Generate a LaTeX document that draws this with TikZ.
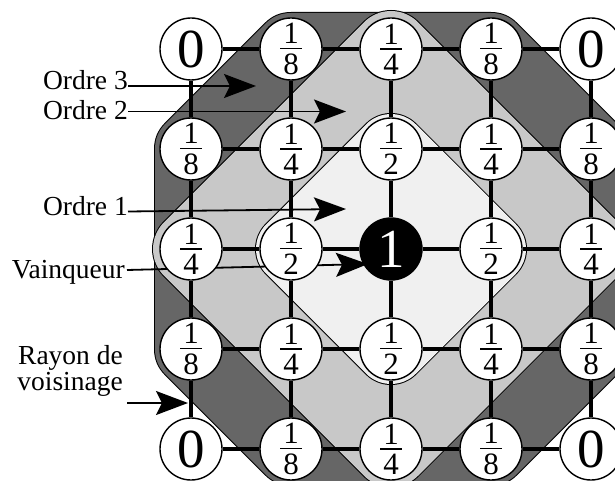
\documentclass[tikz,border=0pt]{standalone}
\usepackage{fontspec}
\setmainfont{Liberation Serif}
\usetikzlibrary{arrows.meta}
\pgfdeclarelayer{back}
\pgfdeclarelayer{mid}
\pgfsetlayers{back,mid,main}
\definecolor{darkreg}{RGB}{102,102,102}
\definecolor{medreg}{RGB}{200,200,200}
\definecolor{lightreg}{RGB}{240,240,240}
\newcommand\myfr[2]{\vbox{\hbox to 22pt{\hss#1\hss}\kern4pt\hrule height 1.5pt\kern4.5pt\hbox to 22pt{\hss#2\hss}}}
\newcommand\myregion[3]{%
  \draw[line width=#2pt+2pt, line join=round] #3 -- cycle;
  \draw[line width=#2pt, line join=round, draw=#1] #3 -- cycle;
  \fill[#1] #3 -- cycle;}
\begin{document}
\begin{tikzpicture}[x=1pt,y=-1pt,
  cell/.style={circle, draw, fill=white, minimum size=62pt, inner sep=0pt, line width=1.4pt,
    font=\fontsize{31}{31}\selectfont},
  win/.style={circle, draw, fill=black, text=white, minimum size=62pt, inner sep=0pt, line width=1.4pt,
    font=\fontsize{55}{55}\selectfont},
  gridline/.style={line width=4.5pt},
  lab/.style={inner sep=0pt, font=\fontsize{27.5}{26}\selectfont},
  arr/.style={line width=1.8pt, -{Stealth[length=32pt, width=24pt, inset=6pt]}}]
\useasboundingbox (0,0) rectangle (615,481);
% regions
\begin{pgfonlayer}{back}
\myregion{darkreg}{72}{(291,49) -- (491,49) -- (591,149) -- (591,349) -- (491,449) -- (291,449) -- (191,349) -- (191,149)}
\myregion{medreg}{76}{(391,49) -- (591,249) -- (391,449) -- (191,249)}
\myregion{lightreg}{70}{(391,149) -- (491,249) -- (391,349) -- (291,249)}
\end{pgfonlayer}
% cells
\foreach \i in {0,...,4} {
  \foreach \j in {0,...,4} {
    \pgfmathtruncatemacro\d{abs(\i-2)+abs(\j-2)}
    \ifnum\d=0
      \node[win] (n\i\j) at ({191+100*\i},{49+100*\j}) {1};
    \else
      \node[cell] (n\i\j) at ({191+100*\i},{49+100*\j})
        {\ifcase\d\or\myfr12\or\myfr14\or\myfr18\or{\fontsize{55}{55}\selectfont 0}\fi};
    \fi
  }
}
% grid connectors
\foreach \a in {0,...,4} {
  \foreach \b [evaluate=\b as \c using int(\b+1)] in {0,...,3} {
    \draw[gridline] (n\a\b) -- (n\a\c);
    \draw[gridline] (n\b\a) -- (n\c\a);
  }
}
% labels
\node[lab, anchor=base east] (o3) at (128,90) {Ordre 3};
\node[lab, anchor=base east] (o2) at (128,120) {Ordre 2};
\node[lab, anchor=base east] (o1) at (128,215) {Ordre 1};
\node[lab, anchor=base east] (vq) at (125,278) {Vainqueur};
\node[lab, anchor=base east, align=right] (rv) at (123,390) {Rayon de\\voisinage};
\coordinate (t3) at (256,86);
\coordinate (t2) at (346,111.5);
\coordinate (t1) at (346,209);
\coordinate (tv) at (368,264);
\coordinate (tr) at (188,403);
\begin{pgfonlayer}{mid}
\draw[arr] ([yshift=4pt]o3.base east) -- (t3);
\draw[arr] ([yshift=8.5pt]o2.base east) -- (t2);
\draw[arr] ([yshift=3.5pt]o1.base east) -- (t1);
\draw[arr] ([xshift=2pt,yshift=8pt]vq.base east) -- (tv);
\draw[arr] ([xshift=4pt,yshift=-13pt]rv.base east) -- (tr);
\end{pgfonlayer}
\end{tikzpicture}
\end{document}
